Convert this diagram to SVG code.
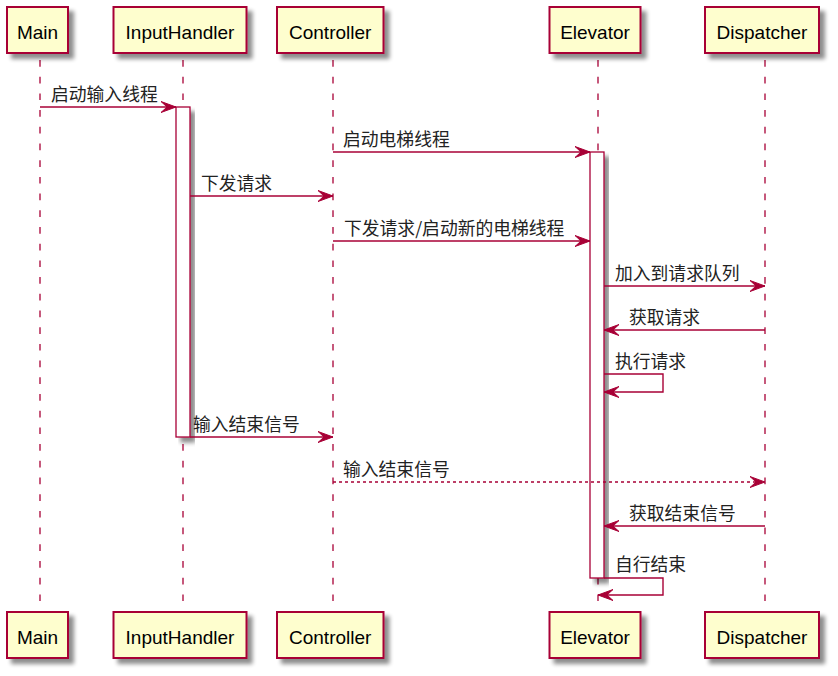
<svg xmlns="http://www.w3.org/2000/svg" width="838" height="676" viewBox="0 0 838 676">
<defs>
<filter id="sh" x="-20%" y="-20%" width="150%" height="150%">
<feGaussianBlur in="SourceAlpha" stdDeviation="2"/>
<feOffset dx="5" dy="5" result="b"/>
<feComponentTransfer><feFuncA type="linear" slope="0.45"/></feComponentTransfer>
<feMerge><feMergeNode/><feMergeNode in="SourceGraphic"/></feMerge>
</filter>
<marker id="ah" viewBox="0 0 17 13" refX="16" refY="6.5" markerWidth="17" markerHeight="13" markerUnits="userSpaceOnUse" orient="auto">
<polygon points="1,1 16,6.5 1,12 7,6.5" fill="#A80036" stroke="#A80036" stroke-width="1"/>
</marker>
</defs>
<style>
.box{fill:#FEFECE;stroke:#A80036;stroke-width:2}
.act{fill:#FFFFFF;stroke:#A80036;stroke-width:1.3}
.life{stroke:#A80036;stroke-width:1.3;stroke-dasharray:6.7 10;fill:none}
.pt{font-family:"Liberation Sans","Noto Sans CJK SC",sans-serif;font-size:19px;fill:#000;text-anchor:middle}
.lb{font-family:"Noto Sans CJK SC","Liberation Sans",sans-serif;font-size:17.8px;fill:#222}
.msg{stroke:#A80036;stroke-width:1.4;fill:none;marker-end:url(#ah)}
.dot{stroke-dasharray:3 3}
</style>
<rect width="838" height="676" fill="#FFFFFF"/>
<g id="lifelines">
<line class="life" x1="40" y1="60" x2="40" y2="612"/>
<line class="life" x1="183" y1="60" x2="183" y2="612"/>
<line class="life" x1="333" y1="60" x2="333" y2="612"/>
<line class="life" x1="598" y1="60" x2="598" y2="612"/>
<line class="life" x1="765" y1="60" x2="765" y2="612"/>
</g>
<g id="Main">
<rect class="box" x="7" y="7" width="61" height="46" filter="url(#sh)"/>
<text class="pt" x="37.5" y="39">Main</text>
<rect class="box" x="7" y="612" width="61" height="46" filter="url(#sh)"/>
<text class="pt" x="37.5" y="644">Main</text>
</g>
<g id="InputHandler">
<rect class="box" x="113.5" y="7" width="133" height="46" filter="url(#sh)"/>
<text class="pt" x="180" y="39">InputHandler</text>
<rect class="box" x="113.5" y="612" width="133" height="46" filter="url(#sh)"/>
<text class="pt" x="180" y="644">InputHandler</text>
<rect class="act" x="176" y="107" width="14" height="330" filter="url(#sh)"/>
</g>
<g id="Controller">
<rect class="box" x="277" y="7" width="106.5" height="46" filter="url(#sh)"/>
<text class="pt" x="330.2" y="39">Controller</text>
<rect class="box" x="277" y="612" width="106.5" height="46" filter="url(#sh)"/>
<text class="pt" x="330.2" y="644">Controller</text>
</g>
<g id="Elevator">
<rect class="box" x="549.5" y="7" width="91" height="46" filter="url(#sh)"/>
<text class="pt" x="595" y="39">Elevator</text>
<rect class="box" x="549.5" y="612" width="91" height="46" filter="url(#sh)"/>
<text class="pt" x="595" y="644">Elevator</text>
<rect class="act" x="590" y="152" width="14" height="426" filter="url(#sh)"/>
</g>
<g id="Dispatcher">
<rect class="box" x="705" y="7" width="114" height="46" filter="url(#sh)"/>
<text class="pt" x="762" y="39">Dispatcher</text>
<rect class="box" x="705" y="612" width="114" height="46" filter="url(#sh)"/>
<text class="pt" x="762" y="644">Dispatcher</text>
</g>
<g id="connectors">
<line class="msg" x1="40" y1="107" x2="176" y2="107"/>
<text class="lb" x="51" y="101">启动输入线程</text>
<line class="msg" x1="333" y1="152" x2="590" y2="152"/>
<text class="lb" x="343" y="146">启动电梯线程</text>
<line class="msg" x1="190" y1="196" x2="333" y2="196"/>
<text class="lb" x="201" y="190">下发请求</text>
<line class="msg" x1="333" y1="241" x2="590" y2="241"/>
<text class="lb" x="344" y="235">下发请求/启动新的电梯线程</text>
<line class="msg" x1="604" y1="286" x2="765" y2="286"/>
<text class="lb" x="615" y="280">加入到请求队列</text>
<line class="msg" x1="765" y1="330" x2="604" y2="330"/>
<text class="lb" x="629" y="324">获取请求</text>
<polyline class="msg" points="604,374 663,374 663,392 604,392"/>
<text class="lb" x="615" y="368">执行请求</text>
<line class="msg" x1="190" y1="437" x2="333" y2="437"/>
<text class="lb" x="193" y="431">输入结束信号</text>
<line class="msg dot" x1="333" y1="482" x2="765" y2="482"/>
<text class="lb" x="343" y="476">输入结束信号</text>
<line class="msg" x1="765" y1="526" x2="604" y2="526"/>
<text class="lb" x="629" y="520">获取结束信号</text>
<polyline class="msg" points="604,578 663,578 663,595 598,595"/>
<text class="lb" x="615" y="571">自行结束</text>
</g>
</svg>
